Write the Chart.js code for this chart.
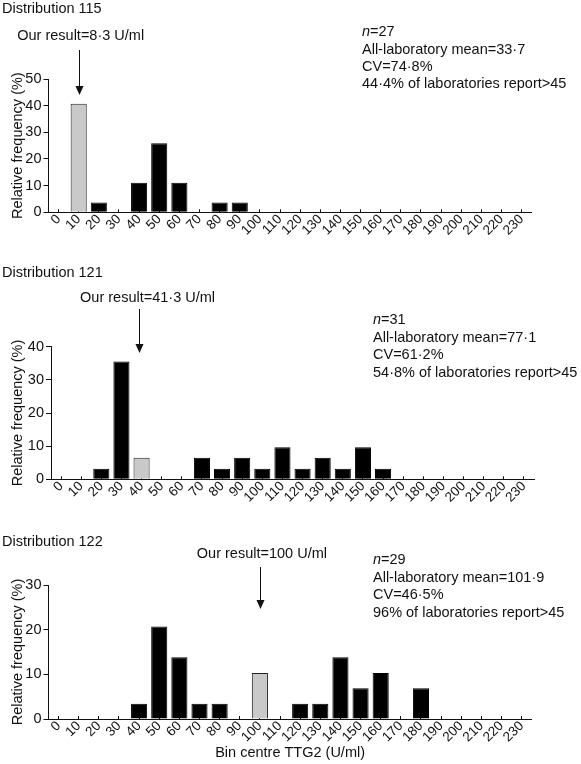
<!DOCTYPE html>
<html>
<head>
<meta charset="utf-8">
<script src="https://cdn.jsdelivr.net/npm/chart.js@4.4.1/dist/chart.umd.min.js"></script>
<style>
  html, body { margin: 0; padding: 0; background: #fff; }
  #wrap { position: relative; width: 581px; height: 764px; overflow: hidden; }
  canvas { position: absolute; left: 0; }
</style>
</head>
<body>
<div id="wrap">
  <canvas id="c115" width="581" height="245" style="top:0px"></canvas>
  <canvas id="c121" width="581" height="270" style="top:245px"></canvas>
  <canvas id="c122" width="581" height="249" style="top:515px"></canvas>
</div>
<script>
// ---------- DATA ----------
const bins = ['0','10','20','30','40','50','60','70','80','90','100','110','120','130','140','150','160','170','180','190','200','210','220','230'];

// Relative frequency (%) per bin
const dist115 = [0, 40.7, 3.7, 0, 11.1, 25.9, 11.1, 0, 3.7, 3.7, 0, 0, 0, 0, 0, 0, 0, 0, 0, 0, 0, 0, 0, 0];
const dist121 = [0, 0, 3.2, 35.5, 6.5, 0, 0, 6.5, 3.2, 6.5, 3.2, 9.7, 3.2, 6.5, 3.2, 9.7, 3.2, 0, 0, 0, 0, 0, 0, 0];
const dist122 = [0, 0, 0, 0, 3.4, 20.7, 13.8, 3.4, 3.4, 0, 10.3, 0, 3.4, 3.4, 13.8, 6.9, 10.3, 0, 6.9, 0, 0, 0, 0, 0];

// bin holding "our result" in each distribution
const ourBin115 = '10';
const ourBin121 = '40';
const ourBin122 = '100';

const titles = ['Distribution 115', 'Distribution 121', 'Distribution 122'];
const resultTexts = ['Our result=8\u00b73 U/ml', 'Our result=41\u00b73 U/ml', 'Our result=100 U/ml'];
const nValues = ['27', '31', '29'];
const statLines115 = ['All-laboratory mean=33\u00b77', 'CV=74\u00b78%', '44\u00b74% of laboratories report>45'];
const statLines121 = ['All-laboratory mean=77\u00b71', 'CV=61\u00b72%', '54\u00b78% of laboratories report>45'];
const statLines122 = ['All-laboratory mean=101\u00b79', 'CV=46\u00b75%', '96% of laboratories report>45'];
const yMaxes = [50, 40, 30];
const yTitle = 'Relative frequency (%)';
const xTitle = 'Bin centre TTG2 (U/ml)';

// ---------- LAYOUT / STYLE ----------
const FONT = "'Liberation Sans', Arial, Helvetica, sans-serif";
const INK = '#111';
const TXT = 14.5;
Chart.defaults.font.family = FONT;
Chart.defaults.font.size = 13;
Chart.defaults.color = INK;

const layouts = [
  { h: 245, left: 48.5, right: 531.7, top: 79,    bottom: 212.3, titleY: 12.7, resY: 40,   resDx: 2, arrDx: 0,  arrTop: 50, arrTip: 95,  statsX: 362, statsY: [36, 54, 71, 88],  xTitle: false },
  { h: 270, left: 51,   right: 534,   top: 101.7, bottom: 234.3, titleY: 31.7, resY: 56.7, resDx: 6, arrDx: -3, arrTop: 64, arrTip: 108, statsX: 373, statsY: [79, 97, 114, 132], xTitle: false },
  { h: 249, left: 48.5, right: 531.7, top: 70,    bottom: 204,   titleY: 30.7, resY: 43,   resDx: 2, arrDx: 0,  arrTop: 52, arrTip: 94,  statsX: 373, statsY: [49, 67, 84, 102], xTitle: true }
];

const annotate = {
  id: 'annotate',
  afterDraw(chart) {
    const o = chart.options.plugins.annotate;
    const L = o.layout;
    const ctx = chart.ctx;
    const xs = chart.scales.x;
    ctx.save();
    ctx.fillStyle = INK;
    ctx.strokeStyle = INK;
    ctx.textBaseline = 'alphabetic';
    ctx.font = TXT + 'px ' + FONT;
    // title
    ctx.textAlign = 'left';
    ctx.fillText(o.title, 2, L.titleY);
    // stats
    ctx.font = 'italic ' + TXT + 'px ' + FONT;
    ctx.fillText('n', L.statsX, L.statsY[0]);
    const nw = ctx.measureText('n').width;
    ctx.font = TXT + 'px ' + FONT;
    ctx.fillText('=' + o.n, L.statsX + nw, L.statsY[0]);
    o.stats.forEach((s, i) => ctx.fillText(s, L.statsX, L.statsY[i + 1]));
    // result + arrow
    const bx = xs.getPixelForValue(bins.indexOf(o.ourBin));
    ctx.textAlign = 'center';
    ctx.fillText(o.result, bx + L.resDx, L.resY);
    const ax = Math.round(bx + L.arrDx) + 0.5;
    ctx.lineWidth = 1;
    ctx.beginPath();
    ctx.moveTo(ax, L.arrTop);
    ctx.lineTo(ax, L.arrTip - 6);
    ctx.stroke();
    ctx.beginPath();
    ctx.moveTo(ax - 4, L.arrTip - 9);
    ctx.lineTo(ax + 4, L.arrTip - 9);
    ctx.lineTo(ax, L.arrTip);
    ctx.closePath();
    ctx.fill();
    ctx.restore();
  }
};

function makeChart(id, idx, values, ourBin, stats) {
  const L = layouts[idx];
  const ourIndex = bins.indexOf(ourBin);
  return new Chart(document.getElementById(id), {
    type: 'bar',
    data: {
      labels: bins,
      datasets: [{
        data: values,
        backgroundColor: (c) => c.dataIndex === ourIndex ? '#c9c9c9' : '#000',
        borderColor: (c) => c.dataIndex === ourIndex ? '#222' : '#000',
        borderWidth: 1,
        barPercentage: 0.8,
        categoryPercentage: 1.0
      }]
    },
    options: {
      responsive: false,
      animation: false,
      devicePixelRatio: 1,
      layout: { padding: { left: 0, top: L.top, right: 581 - L.right, bottom: 0 } },
      plugins: {
        legend: { display: false },
        tooltip: { enabled: false },
        title: { display: false },
        annotate: { layout: L, title: titles[idx], result: resultTexts[idx], n: nValues[idx], stats: stats, ourBin: ourBin }
      },
      scales: {
        x: {
          type: 'category',
          offset: true,
          grid: { offset: false, drawOnChartArea: false, drawTicks: true, tickLength: -3, color: INK, tickColor: INK },
          border: { display: true, color: INK, width: 1 },
          ticks: { autoSkip: false, minRotation: 45, maxRotation: 45, padding: 2, font: { size: 13.5 }, color: INK },
          title: { display: L.xTitle, text: xTitle, font: { size: TXT }, color: INK, padding: { top: 0, bottom: 2 } },
          afterFit: (s) => { s.height = L.h - L.bottom; s.paddingLeft = 0; s.paddingRight = 0; s.paddingTop = 0; s.paddingBottom = 0; }
        },
        y: {
          min: 0, max: yMaxes[idx],
          grid: { drawOnChartArea: false, drawTicks: true, tickLength: 5, color: INK, tickColor: INK },
          border: { display: true, color: INK, width: 1 },
          ticks: { stepSize: 10, padding: 2, font: { size: 14.5 }, color: INK },
          title: { display: true, text: yTitle, font: { size: TXT }, color: INK, padding: { top: 9, bottom: 0 } },
          afterFit: (s) => { s.width = L.left; s.paddingLeft = 0; s.paddingRight = 0; s.paddingTop = 0; s.paddingBottom = 0; }
        }
      }
    },
    plugins: [annotate]
  });
}

makeChart('c115', 0, dist115, ourBin115, statLines115);
makeChart('c121', 1, dist121, ourBin121, statLines121);
makeChart('c122', 2, dist122, ourBin122, statLines122);
</script>
</body>
</html>
